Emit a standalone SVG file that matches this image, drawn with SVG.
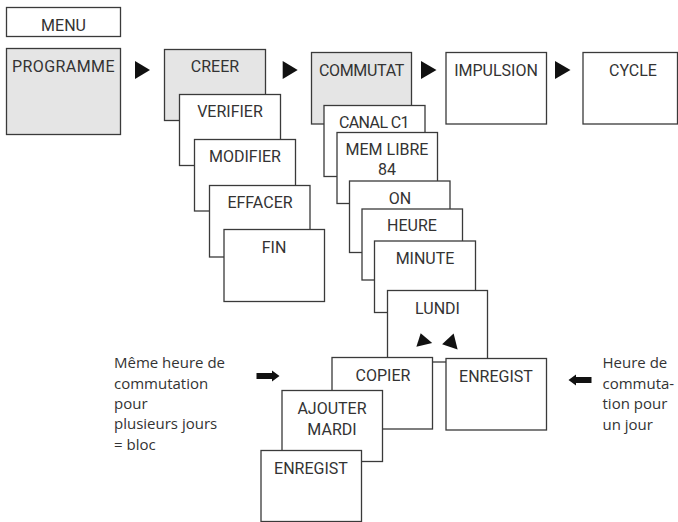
<svg xmlns="http://www.w3.org/2000/svg" width="678" height="522" viewBox="0 0 678 522">
<defs>
<style>
.box{fill:#ffffff;stroke:#3a3a3a;stroke-width:1.3}
.gray{fill:#e5e5e5}
.lbl{font-family:Roboto,"Liberation Sans",sans-serif;font-size:16px;fill:#333;text-anchor:middle}
.note{font-family:"Open Sans","Noto Sans",sans-serif;font-size:15px;fill:#333}
.tri{fill:#111}
</style>
</defs>
<rect width="678" height="522" fill="#ffffff"/>
<g id="menu"><rect class="box" x="6.5" y="7.5" width="114" height="29"/><text class="lbl" x="63.5" y="31">MENU</text></g>
<g id="programme"><rect class="box gray" x="6.5" y="48.5" width="114" height="86"/><text class="lbl" x="63.5" y="72" letter-spacing="0.4">PROGRAMME</text></g>
<g id="creer"><rect class="box gray" x="164.5" y="49.5" width="101" height="71"/><text class="lbl" x="215" y="72">CREER</text></g>
<g id="verifier"><rect class="box" x="179.5" y="94.5" width="101" height="71"/><text class="lbl" x="230" y="117">VERIFIER</text></g>
<g id="modifier"><rect class="box" x="194.5" y="139.5" width="101" height="71.5"/><text class="lbl" x="245" y="162">MODIFIER</text></g>
<g id="effacer"><rect class="box" x="209.5" y="185.5" width="100.5" height="71.5"/><text class="lbl" x="260" y="208">EFFACER</text></g>
<g id="fin"><rect class="box" x="224" y="229.5" width="100.5" height="72"/><text class="lbl" x="274" y="253">FIN</text></g>
<g id="commutat"><rect class="box gray" x="311.5" y="52.5" width="100" height="71.5"/><text class="lbl" x="361.5" y="76" letter-spacing="-0.3">COMMUTAT</text></g>
<g id="impulsion"><rect class="box" x="446" y="52.5" width="100.5" height="71.5"/><text class="lbl" x="496" y="76">IMPULSION</text></g>
<g id="cycle"><rect class="box" x="583" y="52.5" width="94.5" height="71.5"/><text class="lbl" x="633" y="76">CYCLE</text></g>
<g id="canal"><rect class="box" x="324" y="105.5" width="101" height="71"/><text class="lbl" x="374" y="127.5" letter-spacing="-0.6">CANAL C1</text></g>
<g id="memlibre"><rect class="box" x="337" y="132.5" width="100.5" height="71"/><text class="lbl" x="387" y="154.5">MEM LIBRE</text><text class="lbl" x="387" y="175">84</text></g>
<g id="on"><rect class="box" x="349.5" y="181" width="100.5" height="71.5"/><text class="lbl" x="400" y="203.5">ON</text></g>
<g id="heure"><rect class="box" x="362" y="209" width="100.5" height="71"/><text class="lbl" x="412" y="231">HEURE</text></g>
<g id="minute"><rect class="box" x="374.5" y="241" width="101" height="71.5"/><text class="lbl" x="425" y="263.5">MINUTE</text></g>
<g id="lundi"><rect class="box" x="387.5" y="290.5" width="100" height="71.5"/><text class="lbl" x="437.5" y="313.5">LUNDI</text>
<polygon class="tri" points="420.7,333.3 416.4,346.8 432.2,343"/><polygon class="tri" points="453.6,333.5 442.1,344.3 457.6,349.4"/></g>
<g id="copier"><rect class="box" x="332" y="357.5" width="100.5" height="71.5"/><text class="lbl" x="383" y="380.5">COPIER</text></g>
<g id="enregist1"><rect class="box" x="446" y="358.5" width="100.5" height="71.5"/><text class="lbl" x="496" y="381.5">ENREGIST</text></g>
<g id="ajouter"><rect class="box" x="282" y="390.5" width="100.5" height="71"/><text class="lbl" x="332" y="413.5">AJOUTER</text><text class="lbl" x="332" y="435">MARDI</text></g>
<g id="enregist2"><rect class="box" x="261" y="450.5" width="100.5" height="71"/><text class="lbl" x="311" y="473.5">ENREGIST</text></g>
<g id="connectors">
<polygon class="tri" points="135,61 150,70 135,79"/>
<polygon class="tri" points="282.7,61 297.7,70 282.7,79"/>
<polygon class="tri" points="421,61 436.5,70 421,79"/>
<polygon class="tri" points="555,61 570.5,70 555,79"/>
<polygon class="tri" points="256.5,373 272,373 272,370.5 279.5,376 272,381.5 272,379 256.5,379"/>
<polygon class="tri" points="591.5,377 576,377 576,374.5 568.5,380 576,385.5 576,383 591.5,383"/>
</g>
<g id="note-left">
<text class="note" x="114" y="368">Même heure de</text>
<text class="note" x="114" y="388.5">commutation</text>
<text class="note" x="114" y="408.5">pour</text>
<text class="note" x="114" y="429">plusieurs jours</text>
<text class="note" x="114" y="449.5">= bloc</text>
</g>
<g id="note-right">
<text class="note" x="602.5" y="368">Heure de</text>
<text class="note" x="602.5" y="388.5">commuta-</text>
<text class="note" x="602.5" y="409">tion pour</text>
<text class="note" x="602.5" y="429.5">un jour</text>
</g>
</svg>
